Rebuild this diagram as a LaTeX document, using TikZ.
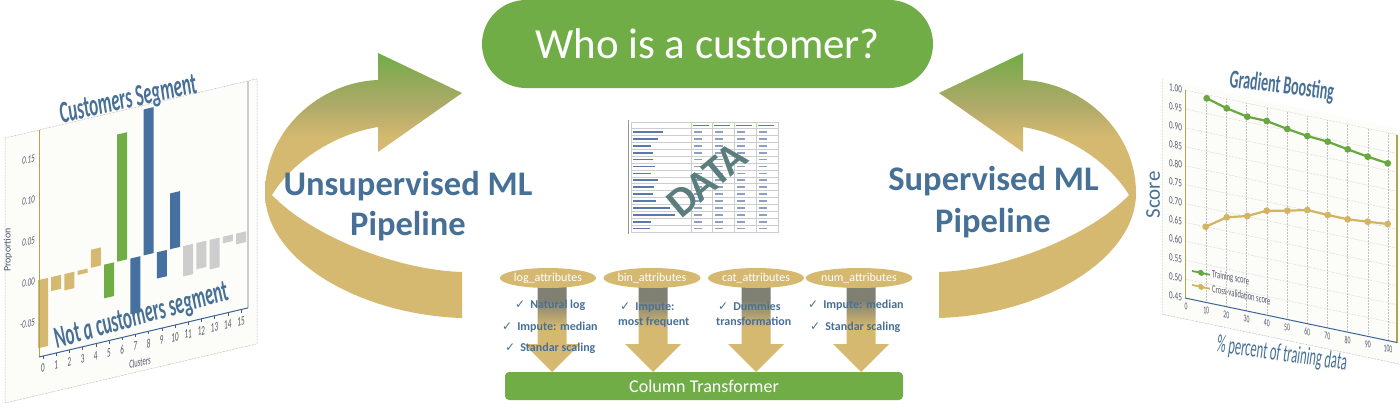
\documentclass[tikz,border=0pt]{standalone}
\usepackage{fontspec}
\setmainfont{Carlito}
\newfontfamily\symfont{DejaVu Sans}
\usetikzlibrary{shapes.geometric,shapes.misc}

\definecolor{pgreen}{RGB}{112,173,71}
\definecolor{pgreenish}{RGB}{140,170,85}
\definecolor{ptan}{RGB}{213,185,112}
\definecolor{polive}{RGB}{175,170,105}
\definecolor{pgray}{RGB}{128,128,114}
\definecolor{pblue}{RGB}{70,112,150}
\definecolor{barblue}{RGB}{70,112,160}
\definecolor{bargray}{RGB}{205,205,205}
\definecolor{ticktext}{RGB}{80,88,108}
\definecolor{spineolive}{RGB}{175,165,80}
\definecolor{axisblue}{RGB}{60,100,150}
\definecolor{gridgray}{RGB}{195,195,195}
\definecolor{framegray}{RGB}{150,150,150}
\definecolor{chartbg}{RGB}{252,252,248}
\definecolor{dataclr}{RGB}{90,125,125}
\definecolor{tablegrid}{RGB}{205,205,205}
\definecolor{tabletext}{RGB}{90,120,170}
\definecolor{cvtan}{RGB}{210,180,100}
\definecolor{trgreen}{RGB}{105,168,65}

\pgfdeclareverticalshading{bigarrowshade}{100bp}{color(0bp)=(ptan); color(59bp)=(ptan); color(65bp)=(polive); color(71bp)=(pgreenish); color(75bp)=(pgreen); color(100bp)=(pgreen)}
\pgfdeclareverticalshading{smallarrowshade}{100bp}{color(0bp)=(ptan); color(50bp)=(ptan); color(65bp)=(pgray); color(100bp)=(pgray)}

\newcommand\mychk{{\symfont\fontsize{12}{12}\selectfont ✓}\hspace{5pt}}

\tikzset{
  pipetext/.style={anchor=base, inner sep=0pt, text=pblue, font=\bfseries\fontsize{34.5}{34.5}\selectfont},
  ellnode/.style={ellipse, fill=ptan, minimum width=88pt, minimum height=20pt, inner sep=0pt, text=white, font=\fontsize{12}{12}\selectfont},
  checkline/.style={anchor=base west, inner sep=0pt, text=pblue, font=\bfseries\fontsize{12}{12}\selectfont},
  tickl/.style={transform shape, xscale=0.55, inner sep=0pt, text=ticktext, font=\fontsize{13}{13}\selectfont},
  ytickl/.style={transform shape, xscale=0.65, inner sep=0pt, anchor=east, text=ticktext, font=\itshape\fontsize{11}{11}\selectfont},
  legtext/.style={transform shape, xscale=0.6, anchor=west, inner sep=0pt, text=ticktext, font=\fontsize{11}{11}\selectfont},
  bigtitle/.style={anchor=base, inner sep=0pt, text=pblue, xscale=0.55, font=\bfseries\itshape\fontsize{31}{31}\selectfont},
  gridl/.style={gridgray, densely dotted, line width=0.5pt},
  framedot/.style={framegray, densely dotted, line width=0.5pt},
}

\begin{document}
\begin{tikzpicture}[x=1pt,y=-1pt]
\useasboundingbox (0,0) rectangle (1400,410);
\fill[white] (0,0) rectangle (1400,410);

% ---------- big curved arrows ----------
\shade[shading=bigarrowshade] (378,80) .. controls (320,82) and (265,130) .. (265,193)
  .. controls (265,260) and (360,315) .. (462,318) -- (462,272)
  .. controls (395,270) and (310,235) .. (272,195)
  .. controls (290,165) and (330,135) .. (378,127) -- (378,152) -- (462,93) -- (378,53) -- cycle;
\begin{scope}[shift={(1401,0)}, xscale=-1]
\shade[shading=bigarrowshade] (378,80) .. controls (320,82) and (265,130) .. (265,193)
  .. controls (265,260) and (360,315) .. (462,318) -- (462,272)
  .. controls (395,270) and (310,235) .. (272,195)
  .. controls (290,165) and (330,135) .. (378,127) -- (378,152) -- (462,93) -- (378,53) -- cycle;
\end{scope}

% ---------- title ----------
\node[rounded rectangle, fill=pgreen, minimum width=451, minimum height=88, inner sep=0pt,
      text=white, font=\fontsize{43}{43}\selectfont] (title) at (707.5,44) {Who is a customer?};

% ---------- pipeline texts ----------
\node[pipetext] (unsup1) at (408,195) {Unsupervised ML};
\node[pipetext] (unsup2) at (408,235) {Pipeline};
\node[pipetext] (sup1) at (993.5,190) {Supervised ML};
\node[pipetext] (sup2) at (993,232) {Pipeline};

% ---------- data table ----------
\fill[white] (631,122) rectangle (778,232);
\foreach \k in {0,...,15} { \draw[tablegrid, line width=0.5pt] (631,{128.5+6.9*\k}) -- (778,{128.5+6.9*\k}); }
\draw[tablegrid, line width=0.5pt] (631,122) rectangle (778,232);
\foreach \xx in {691,712,734,756} { \draw[tablegrid, line width=0.5pt] (\xx,122) -- (\xx,232); }
\draw[framegray, line width=0.8pt] (628,120) -- (628,234);
\foreach \k/\l in {1/30,2/25,3/18,4/20,5/20,6/22,7/18,8/25,9/21,10/20,11/23,12/37,13/42,14/18,15/17}
  { \fill[tabletext] (633,{128.5+6.9*\k-4.3}) rectangle ({633+\l},{128.5+6.9*\k-2.6}); }
\foreach \xx in {691,712,734,756} {
  \fill[tabletext] ({\xx+2},124.5) rectangle ({\xx+18},126.2);
  \foreach \k in {1,...,15} { \fill[tabletext!70] ({\xx+3},{128.5+6.9*\k-4.3}) rectangle ({\xx+11},{128.5+6.9*\k-2.6}); }
}
\node[rotate=40, inner sep=0pt, text=dataclr, font=\bfseries\fontsize{42}{42}\selectfont] (data) at (707,180) {DATA};

% ---------- bottom block arrows ----------
\foreach \cx in {552,653,756,861} {
  \shade[shading=smallarrowshade] (\cx-14.5,282) -- (\cx+14.5,282) -- (\cx+14.5,344) -- (\cx+28,344)
     -- (\cx,372) -- (\cx-28,344) -- (\cx-14.5,344) -- cycle;
}
\node[ellnode] (logat) at (548,278) {log\_attributes};
\node[ellnode] (binat) at (652,278) {bin\_attributes};
\node[ellnode] (catat) at (756,278) {cat\_attributes};
\node[ellnode] (numat) at (859,278) {num\_attributes};

\node[checkline] (log1) at (515,308.3) {\mychk Natural log};
\node[checkline] (log2) at (502,330) {\mychk Impute: median};
\node[checkline] (log3) at (505,351.7) {\mychk Standar scaling};
\node[checkline] (bin1) at (620,310) {\mychk Impute:};
\node[checkline] (bin2) at (618,325) {most frequent};
\node[checkline] (cat1) at (718,310) {\mychk Dummies};
\node[checkline] (cat2) at (716,325) {transformation};
\node[checkline] (num1) at (808,308) {\mychk Impute: median};
\node[checkline] (num2) at (810,330) {\mychk Standar scaling};

\node[rounded corners=4pt, fill=pgreen, minimum width=398, minimum height=28, inner sep=0pt,
      text=white, font=\fontsize{18}{18}\selectfont] (coltr) at (704,386) {Column Transformer};

% ---------- left chart ----------
\begin{scope}[shift={(39,357)}, yslant=0.235]
  \fill[chartbg] (-34,-227) rectangle (218,38);
  \draw[framedot] (-34,-227) rectangle (218,38);
  \foreach \i/\v/\c in {0/-0.083/ptan,1/-0.017/ptan,2/-0.02/ptan,3/-0.005/ptan,4/0.022/ptan,
      5/-0.041/pgreen,6/0.155/pgreen,7/-0.068/barblue,8/0.178/barblue,9/-0.032/barblue,10/0.068/barblue,
      11/-0.037/bargray,12/-0.032/bargray,13/-0.036/bargray,14/-0.008/bargray,15/-0.013/bargray}
    { \fill[\c] ({4+13.2*\i-5},-77) rectangle ({4+13.2*\i+5},{-77-820*(\v)}); }
  \draw[spineolive, line width=0.8pt] (0,0) -- (0,-227);
  \draw[bargray, line width=1.2pt] (209,0) -- (209,-227);
  \draw[axisblue, line width=1pt] (0,0) -- (209,0);
  \foreach \i in {0,...,15} {
    \draw[ticktext, line width=0.4pt] ({4+13.2*\i},0) -- ({4+13.2*\i},3);
    \node[tickl] (cx\i) at ({4+13.2*\i},12) {\i};
  }
  \foreach \v/\t in {0.15/0.15,0.10/0.10,0.05/0.05,0.00/0.00,-0.05/-0.05}
    { \node[ytickl] at (-4,{-77-820*(\v)}) {\t}; }
  \node[tickl, font=\fontsize{12}{12}\selectfont] (clusters) at (101,29) {Clusters};
\end{scope}
\node[rotate=90, inner sep=0pt, text=ticktext, font=\fontsize{10}{10}\selectfont] (prop) at (8,250) {Proportion};
\node[rotate=12.6, bigtitle] (custseg) at (130,108) {Customers Segment};
\node[rotate=15.8, bigtitle] (notseg) at (143.5,324) {Not a customers segment};

% ---------- right chart ----------
\begin{scope}[shift={(1185,298)}, yslant=-0.21]
  \fill[chartbg] (-23,-214) rectangle (215,21);
  \draw[framedot] (-23,-214) -- (-23,21) -- (215,21);
  \foreach \i in {1,...,11} { \draw[gridl] (0,{-18.9*\i}) -- (212,{-18.9*\i}); }
  \foreach \k in {1,...,10} { \draw[gridl] ({1+20.2*\k},0) -- ({1+20.2*\k},-208); }
  \draw[spineolive, line width=0.8pt] (0,0) -- (0,-208);
  \draw[spineolive, line width=1.2pt] (212,0) -- (212,-208);
  \draw[axisblue, line width=1pt] (0,0) -- (212,0);
  \foreach \i/\t in {0/0.45,1/0.50,2/0.55,3/0.60,4/0.65,5/0.70,6/0.75,7/0.80,8/0.85,9/0.90,10/0.95,11/1.00}
    { \node[ytickl, font=\fontsize{11}{11}\selectfont] at (-3,{-18.9*\i}) {\t}; }
  \foreach \k/\t in {0/0,1/10,2/20,3/30,4/40,5/50,6/60,7/70,8/80,9/90,10/100}
    { \node[tickl, font=\fontsize{10.5}{10.5}\selectfont] at ({1+20.2*\k},8) {\t}; }
  \draw[trgreen, line width=1.8pt] (7,-28.5) -- (25,-28.5);
  \fill[trgreen] (16,-28.5) circle (3);
  \node[legtext] (legtr) at (27,-29.5) {Training score};
  \draw[cvtan, line width=1.8pt] (7,-14.5) -- (25,-14.5);
  \fill[cvtan] (16,-14.5) circle (3);
  \node[legtext] (legcv) at (27,-15) {Cross-validation score};
\end{scope}
\draw[trgreen, line width=2.2pt] plot coordinates {(1206.7,98.3) (1226.7,108.3) (1247.3,116.7) (1266.7,121) (1287.3,129) (1307.3,136) (1327.7,141.7) (1347.7,149.3) (1367.7,156.7) (1387.7,163.3)};
\foreach \p in {(1206.7,98.3),(1226.7,108.3),(1247.3,116.7),(1266.7,121),(1287.3,129),(1307.3,136),(1327.7,141.7),(1347.7,149.3),(1367.7,156.7),(1387.7,163.3)}
  { \fill[trgreen] \p circle (3.4); }
\draw[cvtan, line width=2.2pt] plot coordinates {(1205.7,226.7) (1226.7,217.3) (1247.3,216) (1266.7,210.7) (1287.3,210.7) (1307.3,210) (1327.7,215) (1347.7,219.3) (1367.7,221.7) (1387.7,224)};
\foreach \p in {(1205.7,226.7),(1226.7,217.3),(1247.3,216),(1266.7,210.7),(1287.3,210.7),(1307.3,210),(1327.7,215),(1347.7,219.3),(1367.7,221.7),(1387.7,224)}
  { \fill[cvtan] \p circle (3.4); }
\node[anchor=base, inner sep=0pt, rotate=-7, xscale=0.54, text=pblue, font=\bfseries\fontsize{26}{26}\selectfont] (gbtitle) at (1281,93.5) {Gradient Boosting};
\node[anchor=base, inner sep=0pt, rotate=-8, xscale=0.5, text=pblue, font=\fontsize{25}{25}\selectfont] (xlab) at (1281,361) {\% percent of training data};
\node[rotate=90, inner sep=0pt, text=pblue, font=\fontsize{21}{21}\selectfont] (score) at (1153,195) {Score};
\end{tikzpicture}
\end{document}
